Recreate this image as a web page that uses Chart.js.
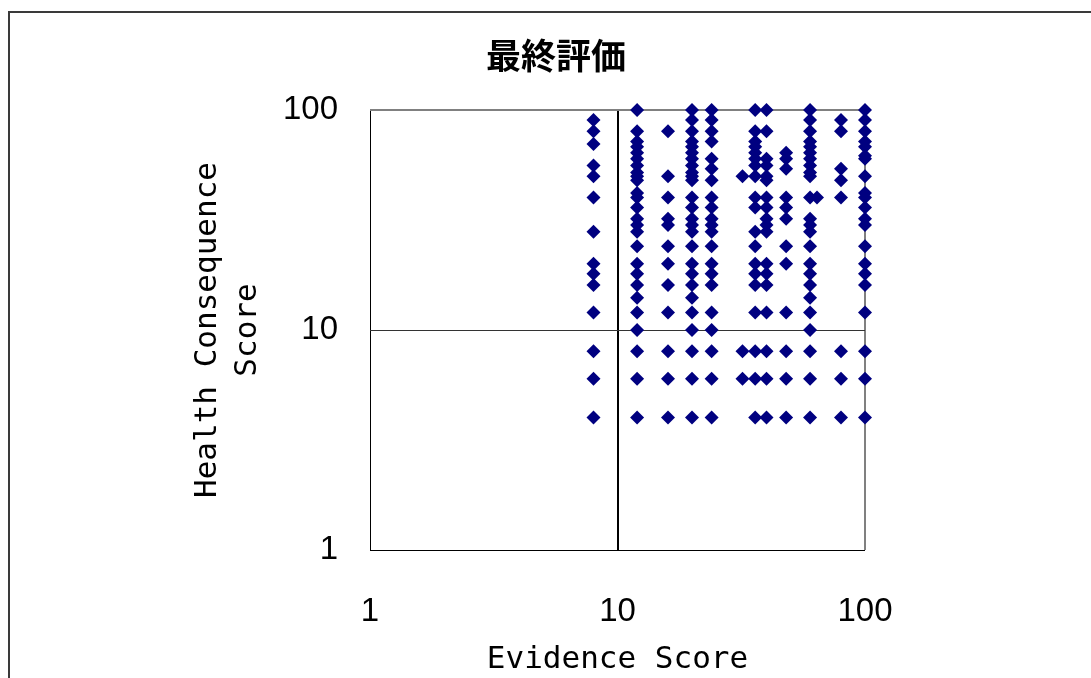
<!DOCTYPE html>
<html>
<head>
<meta charset="utf-8">
<title>最終評価</title>
<script src="https://cdn.jsdelivr.net/npm/chart.js@4.4.1/dist/chart.umd.min.js"></script>
<style>
  html, body { margin: 0; padding: 0; background: #fff; overflow: hidden; }
  #wrap { position: relative; width: 1091px; height: 678px; }
  #frame {
    position: absolute; left: 8px; top: 11px; right: -20px; bottom: -20px;
    border-left: 2px solid #3a3a3a; border-top: 2px solid #3a3a3a;
    pointer-events: none;
  }
  canvas { position: absolute; left: 0; top: 0; }
</style>
</head>
<body>
<div id="wrap">
  <canvas id="chart" width="1091" height="678"></canvas>
  <div id="frame"></div>
</div>
<script>
// Evidence score of each column of points
const evidenceScores = [8, 12, 16, 20, 24, 32, 36, 40, 48, 60, 64, 80, 100];

// Health consequence scores found at each evidence score
const healthAt8   = [90, 80, 70, 56, 50, 40, 28, 20, 18, 16, 12, 8, 6, 4];
const healthAt12  = [100, 80, 72, 68, 64, 60, 56, 52, 50, 48, 42, 40, 36, 32, 30, 28, 24, 20, 18, 16, 14, 12, 10, 8, 6, 4];
const healthAt16  = [80, 50, 40, 32, 30, 24, 20, 16, 12, 8, 6, 4];
const healthAt20  = [100, 90, 80, 72, 68, 64, 60, 56, 52, 50, 48, 40, 36, 32, 30, 28, 24, 20, 18, 16, 14, 12, 10, 8, 6, 4];
const healthAt24  = [100, 90, 80, 72, 60, 54, 48, 40, 36, 32, 30, 28, 24, 20, 18, 16, 12, 10, 8, 6, 4];
const healthAt32  = [50, 8, 6];
const healthAt36  = [100, 80, 72, 68, 64, 60, 56, 50, 40, 36, 28, 24, 20, 18, 16, 12, 8, 6, 4];
const healthAt40  = [100, 80, 60, 56, 50, 48, 40, 36, 32, 30, 28, 20, 18, 16, 12, 8, 6, 4];
const healthAt48  = [64, 60, 54, 40, 36, 32, 24, 20, 12, 8, 6, 4];
const healthAt60  = [100, 90, 80, 72, 68, 64, 60, 56, 52, 50, 40, 32, 30, 28, 24, 20, 18, 16, 14, 12, 10, 8, 6, 4];
const healthAt64  = [40];
const healthAt80  = [90, 80, 54, 48, 40, 8, 6, 4];
const healthAt100 = [100, 90, 80, 72, 68, 62, 60, 50, 42, 40, 36, 32, 30, 24, 20, 18, 16, 12, 8, 6, 4];

// Axis tick values (decades)
const axisTicks = [1, 10, 100];

const healthColumns = [healthAt8, healthAt12, healthAt16, healthAt20, healthAt24, healthAt32,
  healthAt36, healthAt40, healthAt48, healthAt60, healthAt64, healthAt80, healthAt100];

const points = [];
evidenceScores.forEach((x, i) => {
  healthColumns[i].forEach(y => points.push({ x: x, y: y }));
});

const chartTitle = '最終評価';

// Draws the chart heading above the plot
const headingPlugin = {
  id: 'heading',
  afterDraw(chart) {
    const ctx = chart.ctx;
    ctx.save();
    ctx.fillStyle = '#000';
    ctx.font = 'bold 35px "Noto Sans CJK JP"';
    ctx.textAlign = 'center';
    ctx.textBaseline = 'middle';
    ctx.fillText(chartTitle, 556, 56);
    ctx.restore();
  }
};

function gridStyle(tickValue, edgeColor, midColor, midWidth) {
  if (tickValue === 100) return { color: '#808080', width: 2 };
  if (tickValue === 10) return { color: midColor, width: midWidth };
  return { color: edgeColor, width: 1 };
}

new Chart(document.getElementById('chart'), {
  type: 'scatter',
  data: {
    datasets: [{
      data: points,
      pointStyle: 'rectRot',
      pointRadius: 7,
      pointHoverRadius: 7,
      pointBorderWidth: 0,
      backgroundColor: '#000080',
      borderColor: '#000080',
      clip: false
    }]
  },
  plugins: [headingPlugin],
  options: {
    responsive: false,
    animation: false,
    events: [],
    layout: { padding: { top: 110, right: 226, bottom: 0, left: 0 } },
    plugins: {
      legend: { display: false },
      tooltip: { enabled: false },
      title: { display: false }
    },
    scales: {
      x: {
        type: 'logarithmic',
        min: 1,
        max: 100,
        afterBuildTicks(scale) { scale.ticks = axisTicks.map(v => ({ value: v })); },
        afterFit(scale) { scale.height = 128; },
        border: { display: false },
        grid: {
          drawTicks: false,
          color: c => gridStyle(c.tick.value, '#000', '#000', 2).color,
          lineWidth: c => gridStyle(c.tick.value, '#000', '#000', 2).width
        },
        ticks: {
          padding: 42,
          maxRotation: 0,
          color: '#000',
          font: { family: '"Liberation Sans", Arial, sans-serif', size: 33 },
          callback: v => String(v)
        },
        title: {
          display: true,
          text: 'Evidence Score',
          color: '#000',
          font: { family: '"DejaVu Sans Mono", monospace', size: 31, lineHeight: 1.3 },
          padding: { top: 0, bottom: -2 }
        }
      },
      y: {
        type: 'logarithmic',
        min: 1,
        max: 100,
        afterBuildTicks(scale) { scale.ticks = axisTicks.map(v => ({ value: v })); },
        afterFit(scale) { scale.width = 370; },
        border: { display: false },
        grid: {
          drawTicks: false,
          color: c => gridStyle(c.tick.value, '#000', '#333', 1).color,
          lineWidth: c => gridStyle(c.tick.value, '#000', '#333', 1).width
        },
        ticks: {
          padding: 32,
          color: '#000',
          font: { family: '"Liberation Sans", Arial, sans-serif', size: 33 },
          callback: v => String(v)
        },
        title: {
          display: true,
          text: ['Health Consequence', 'Score'],
          color: '#000',
          font: { family: '"DejaVu Sans Mono", monospace', size: 31, lineHeight: 1.3 },
          padding: { top: 188, bottom: 0 }
        }
      }
    }
  }
});
</script>
</body>
</html>
